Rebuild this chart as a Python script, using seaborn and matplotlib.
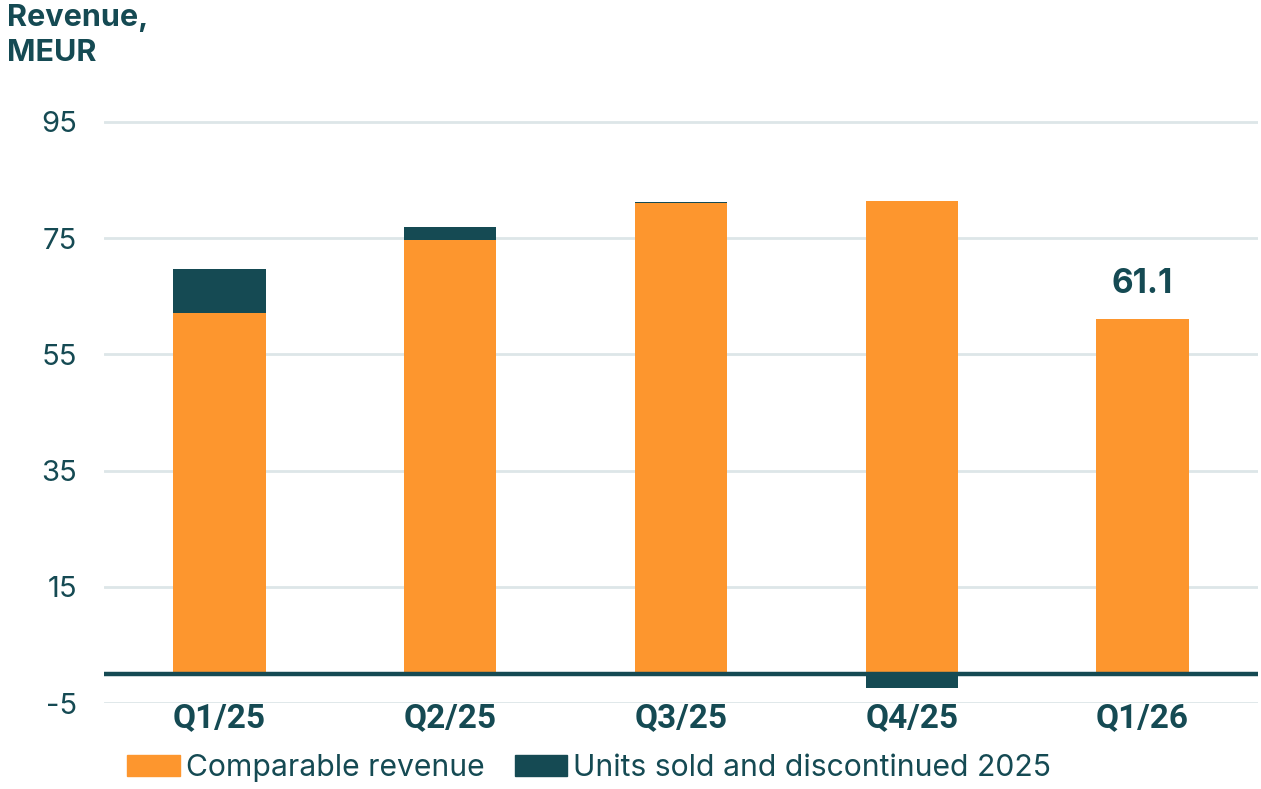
import matplotlib
matplotlib.use("Agg")
import matplotlib.pyplot as plt
import matplotlib.patches as mpatches
import seaborn as sns
import pandas as pd
import numpy as np

categories = ["Q1/25", "Q2/25", "Q3/25", "Q4/25", "Q1/26"]
comparable = [62.2, 74.7, 81.0, 81.4, 61.1]
units_sold = [7.5, 2.2, 0.2, -2.4, 0.0]
yticks = [-5, 15, 35, 55, 75, 95]
label_q126 = "61.1"

ORANGE = "#fd962e"
DARK = "#154a53"
GRID = "#dde6e8"

sns.set_theme(style="white")
plt.rcParams["font.family"] = ["Inter", "DejaVu Sans"]

df = pd.DataFrame({"quarter": categories, "comparable": comparable, "units": units_sold})
df["bottom"] = np.where(df["units"] >= 0, df["comparable"], 0.0)

fig = plt.figure(figsize=(12.61, 7.89), dpi=100)
ax = fig.add_axes([104 / 1261, 1 - 703.05 / 789, (1258 - 104) / 1261, 586.9 / 789])

sns.barplot(data=df, x="quarter", y="comparable", color=ORANGE, width=0.4,
            saturation=1, ax=ax, zorder=3, linewidth=0)
sns.barplot(data=df, x="quarter", y="units", bottom=df["bottom"].values, color=DARK,
            width=0.4, saturation=1, ax=ax, zorder=3, linewidth=0)

ax.set_xlim(-0.5, 4.5)
ax.set_ylim(-5, 96)
ax.set_yticks(yticks)
ax.set_yticklabels([str(v) for v in yticks])
for s in ax.spines.values():
    s.set_visible(False)
ax.grid(axis="y", color=GRID, linewidth=2, zorder=0)
ax.grid(axis="x", visible=False)
ax.axhline(0, color=DARK, linewidth=3.2, zorder=4)
ax.set_xlabel("")
ax.set_ylabel("")
ax.tick_params(axis="y", length=0, pad=19.5, labelsize=21, labelcolor=DARK)
ax.tick_params(axis="x", length=0, pad=-1, labelcolor=DARK)
for lab in ax.get_xticklabels():
    lab.set_fontfamily(["Roboto", "DejaVu Sans"])
    lab.set_fontweight("bold")
    lab.set_fontsize(24)

ax.text(4, 61.1 + 3.3, label_q126, ha="center", va="bottom", fontsize=24,
        fontweight="bold", color=DARK, family=["Inter", "DejaVu Sans"])

fig.text(7 / 1261, 1 - 4 / 789, "Revenue,\nMEUR", ha="left", va="top", fontsize=22,
         fontweight="bold", color=DARK, linespacing=1.3)

handles = [mpatches.Patch(color=ORANGE, label="Comparable revenue"),
           mpatches.Patch(color=DARK, label="Units sold and discontinued 2025")]
leg = fig.legend(handles=handles, loc="center left", bbox_to_anchor=(127 / 1261, 1 - 768 / 789),
                 ncol=2, frameon=False, fontsize=21.7, handlelength=1.75, handleheight=0.7,
                 handletextpad=0.2, columnspacing=1.0, borderaxespad=0, borderpad=0)
for t in leg.get_texts():
    t.set_color(DARK)

fig.savefig("out.png", dpi=100)
